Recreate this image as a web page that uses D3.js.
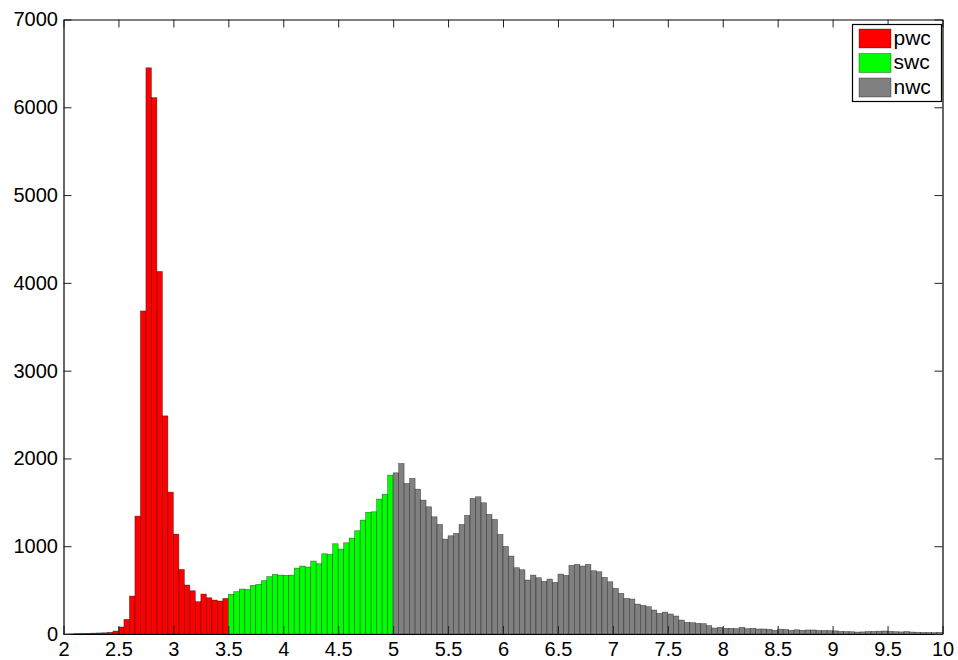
<!DOCTYPE html>
<html>
<head>
<meta charset="utf-8">
<script src="https://cdn.jsdelivr.net/npm/d3@7"></script>
<style>
  body { margin: 0; background: #fff; }
  svg { display: block; font-family: "Liberation Sans", Arial, Helvetica, sans-serif; }
</style>
</head>
<body>
<svg width="958" height="660"></svg>
<script>
"use strict";

// bin width and where each class starts
const binWidth = 0.05;
const pwcStart = 2.0, swcStart = 3.5, nwcStart = 5.0;

// counts per 0.05 bin
const pwcCounts = [2, 3, 5, 6, 8, 10, 12, 14, 19, 34,
  80, 167, 432, 1343, 3680, 6450, 6110, 4130, 2485, 1616,
  1138, 736, 558, 493, 368, 455, 413, 387, 376, 406];

const swcCounts = [452, 482, 512, 508, 554, 565, 607, 653, 679, 671,
  668, 671, 751, 774, 763, 831, 800, 914, 907, 1028,
  967, 1039, 1093, 1176, 1297, 1385, 1392, 1537, 1593, 1810];

const nwcCounts = [1836, 1942, 1715, 1772, 1650, 1525, 1449, 1335, 1248, 1081,
  1119, 1146, 1248, 1351, 1544, 1563, 1495, 1362, 1305, 1134,
  998, 888, 755, 732, 615, 671, 641, 600, 626, 588,
  683, 668, 782, 793, 774, 793, 721, 709, 645, 595,
  520, 463, 406, 398, 341, 326, 311, 273, 235, 250,
  228, 205, 159, 133, 129, 121, 118, 95, 68, 76,
  65, 65, 61, 76, 61, 65, 57, 57, 53, 42,
  55, 52, 42, 48, 42, 46, 46, 40, 40, 38,
  36, 30, 28, 26, 22, 24, 28, 30, 32, 34,
  30, 26, 24, 28, 22, 20, 18, 18, 16, 18];

const seriesNames = ["pwc", "swc", "nwc"];
const seriesColors = ["#ff0000", "#00ff00", "#808080"];

const xTicks = [2, 2.5, 3, 3.5, 4, 4.5, 5, 5.5, 6, 6.5, 7, 7.5, 8, 8.5, 9, 9.5, 10];
const yTicks = [0, 1000, 2000, 3000, 4000, 5000, 6000, 7000];

// flatten into bins
const series = [
  { name: "pwc", start: pwcStart, counts: pwcCounts, color: seriesColors[0] },
  { name: "swc", start: swcStart, counts: swcCounts, color: seriesColors[1] },
  { name: "nwc", start: nwcStart, counts: nwcCounts, color: seriesColors[2] },
];
const bins = [];
series.forEach((s) => {
  s.counts.forEach((c, i) => {
    bins.push({ x0: s.start + i * binWidth, count: c, color: s.color });
  });
});

const svg = d3.select("svg");
const margin = { left: 63.5, right: 15.5, top: 19.5, bottom: 26 };
const width = +svg.attr("width"), height = +svg.attr("height");
const innerW = width - margin.left - margin.right;
const innerH = height - margin.top - margin.bottom;

const x = d3.scaleLinear().domain([2, 10]).range([0, innerW]);
const y = d3.scaleLinear().domain([0, 7000]).range([innerH, 0]);

const g = svg.append("g").attr("transform", `translate(${margin.left},${margin.top})`);

// bars
g.selectAll("rect.bar")
  .data(bins)
  .enter()
  .append("rect")
  .attr("class", "bar")
  .attr("x", (d) => x(d.x0))
  .attr("width", (d) => x(d.x0 + binWidth) - x(d.x0))
  .attr("y", (d) => y(d.count))
  .attr("height", (d) => y(0) - y(d.count))
  .attr("fill", (d) => d.color)
  .attr("stroke", "#000")
  .attr("stroke-opacity", 0.55)
  .attr("stroke-width", 0.6);

// axes, MATLAB style: inward ticks on every side
const fontSize = 20;

const xAxis = d3.axisBottom(x).tickValues(xTicks).tickFormat(d3.format("")).tickSizeInner(-8).tickSizeOuter(0).tickPadding(7.8);
const xAxisG = g.append("g").attr("transform", `translate(0,${innerH})`).call(xAxis);
xAxisG.selectAll("text").style("font-size", fontSize + "px").attr("fill", "#000");

const yAxis = d3.axisLeft(y).tickValues(yTicks).tickFormat(d3.format("")).tickSizeInner(-8).tickSizeOuter(0).tickPadding(5.5);
const yAxisG = g.append("g").call(yAxis);
yAxisG.selectAll("text").style("font-size", fontSize + "px").attr("fill", "#000");

const topAxis = d3.axisTop(x).tickValues(xTicks).tickFormat("").tickSizeInner(-8).tickSizeOuter(0);
g.append("g").call(topAxis);

const rightAxis = d3.axisRight(y).tickValues(yTicks).tickFormat("").tickSizeInner(-8).tickSizeOuter(0);
g.append("g").attr("transform", `translate(${innerW},0)`).call(rightAxis);

g.selectAll(".domain").attr("stroke", "#000").attr("stroke-width", 1.2);
g.selectAll(".tick line").attr("stroke", "#222");

// legend
const legend = svg.append("g").attr("transform", "translate(852.5,24.5)");
legend.append("rect")
  .attr("width", 89)
  .attr("height", 77)
  .attr("fill", "#fff")
  .attr("stroke", "#000")
  .attr("stroke-width", 1.2);

const item = legend.selectAll("g.item")
  .data(seriesNames)
  .enter()
  .append("g")
  .attr("class", "item")
  .attr("transform", (d, i) => `translate(6.5,${4.5 + i * 24.5})`);

item.append("rect")
  .attr("width", 32)
  .attr("height", 19)
  .attr("fill", (d, i) => seriesColors[i])
  .attr("stroke", "#000")
  .attr("stroke-opacity", 0.4)
  .attr("stroke-width", 0.8);

item.append("text")
  .attr("x", 34.5)
  .attr("y", 15.5)
  .style("font-size", "21px")
  .attr("fill", "#000")
  .text((d) => d);
</script>
</body>
</html>
